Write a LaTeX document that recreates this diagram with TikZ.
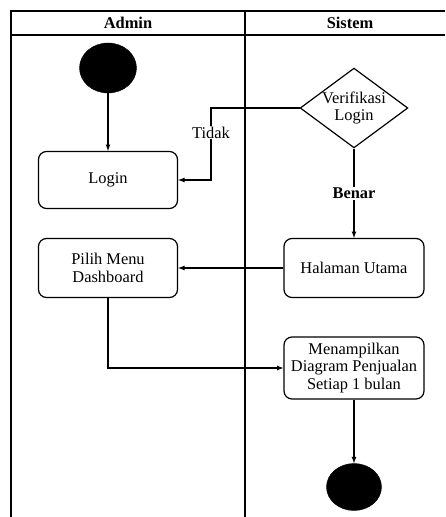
\documentclass[tikz,border=0pt]{standalone}
\usepackage{fontspec}
\setmainfont{Liberation Serif}
\usetikzlibrary{shapes.geometric}
\begin{document}
\begin{tikzpicture}[x=1pt,y=-1pt]
	\tikzset{
		every node/.style={font=\fontsize{16.4}{17.5}\selectfont},
		garis/.style={line width=1.2pt},
		panah/.style={garis,-latex},
		% aktivitas
		aktivitas/.style={draw,garis,rounded corners=8pt,align=center,minimum width=140pt,inner sep=2pt},
		% titik awal dan akhir
		titik/.style={ellipse,fill=black,draw,inner sep=0pt},
		% keputusan
		keputusan/.style={diamond,draw,garis,align=center,aspect=1.35,inner sep=0pt},
		keterangan/.style={fill=white,inner sep=1pt},
	}
	\useasboundingbox (0,0) rectangle (445,517);
	%
	\draw[garis] (11,517)--(11,11)--(445,11) (11,35)--(445,35) (245,11)--(245,517);
	\node[font=\fontsize{16.4}{17.5}\selectfont\bfseries] (admin) at (128,23) {Admin};
	\node[font=\fontsize{16.4}{17.5}\selectfont\bfseries] (sistem) at (350,23) {Sistem};
	%
	\node[titik,minimum width=57pt,minimum height=50pt] (awal) at (108,68) {};
	\node[aktivitas,minimum width=139pt,minimum height=57pt] (login) at (108,180) {Login};
	\node[keputusan] (verif) at (354,108) {Verifikasi\\Login};
	\node[aktivitas,minimum height=59pt] (halaman) at (354,268) {Halaman Utama};
	\node[aktivitas,minimum width=139pt,minimum height=59pt] (pilih) at (108,268) {Pilih Menu\\Dashboard};
	\node[aktivitas,minimum height=62pt] (tampil) at (354,368) {Menampilkan\\Diagram Penjualan\\Setiap 1 bulan};
	\node[titik,minimum width=55pt,minimum height=47pt] (akhir) at (354,487) {};
	\coordinate (belok) at (211,108);
	%
	\draw[panah] (awal)--(login);
	\draw[panah] (verif)--(belok)|-(login) node[keterangan,pos=.17]{Tidak};
	\draw[panah] (verif)--(halaman) node[keterangan,midway,font=\fontsize{16.4}{17.5}\selectfont\bfseries]{Benar};
	\draw[panah] (halaman)--(pilih);
	\draw[panah] (pilih)|-(tampil);
	\draw[panah] (tampil)--(akhir);
\end{tikzpicture}
\end{document}
